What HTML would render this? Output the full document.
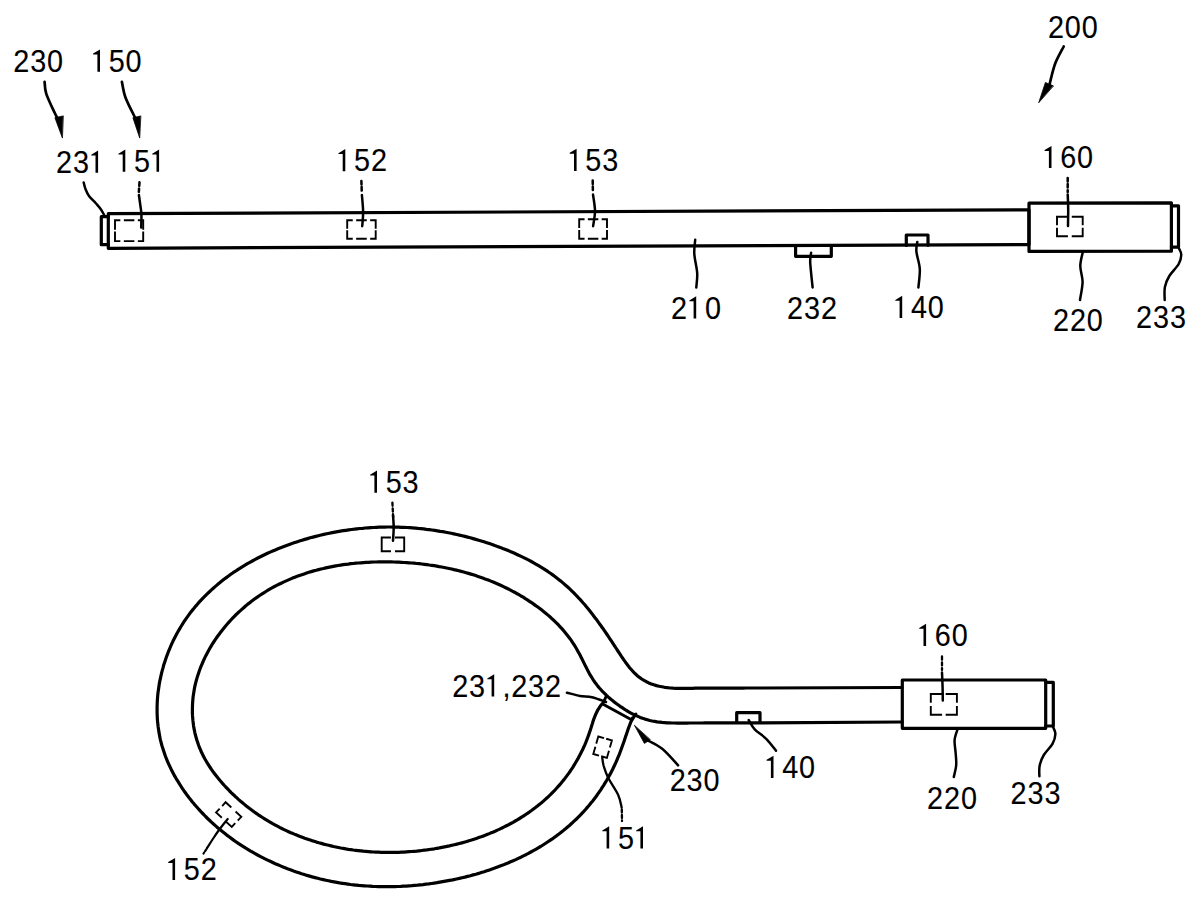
<!DOCTYPE html>
<html><head><meta charset="utf-8"><style>
html,body{margin:0;padding:0;background:#fff;width:1200px;height:904px;overflow:hidden}
svg{display:block}
text{font-family:"Liberation Sans",sans-serif;font-size:32px;fill:#000;stroke:#000;stroke-width:0.12px}
</style></head><body>
<svg width="1200" height="904" viewBox="0 0 1200 904">
<g fill="none" stroke="#000" stroke-linecap="round" stroke-linejoin="round">
<path d="M108.3,213.7 L1029.0,209.8 L1029.0,244.6 L108.3,248.3 Z" stroke-width="3.20" />
<path d="M108.3,216.7 L101.3,216.7 L101.3,244.7 L108.3,244.7" stroke-width="3.20" />
<path d="M1029.0,203.2 L1171.4,202.8 L1171.4,251.2 L1029.0,251.4 Z" stroke-width="3.20" />
<path d="M1171.4,205.8 L1178.5,205.8 L1178.5,247.1 L1171.4,247.1" stroke-width="3.20" />
<path d="M795.6,246.0 L795.6,256.3 L831.3,256.3 L831.3,245.7" stroke-width="3.20" />
<path d="M906.3,245.5 L906.3,235.0 L928.0,235.0 L928.0,245.3" stroke-width="3.20" />
<path d="M119.4,220.3 L115.0,220.3 L115.0,228.9 M119.4,241.1 L115.0,241.1 L115.0,232.5 M138.8,220.3 L143.2,220.3 L143.2,228.9 M138.8,241.1 L143.2,241.1 L143.2,232.5 M124.8,220.3 L133.4,220.3 M124.8,241.1 L133.4,241.1" stroke-width="1.90" stroke-linecap="square" stroke-linejoin="miter"/>
<path d="M351.8,220.2 L347.2,220.2 L347.2,227.8 M351.8,238.8 L347.2,238.8 L347.2,231.2 M371.1,220.2 L375.7,220.2 L375.7,227.8 M371.1,238.8 L375.7,238.8 L375.7,231.2 M357.1,220.2 L365.8,220.2 M357.1,238.8 L365.8,238.8" stroke-width="1.90" stroke-linecap="square" stroke-linejoin="miter"/>
<path d="M583.6,219.3 L579.2,219.3 L579.2,227.1 M583.6,238.8 L579.2,238.8 L579.2,231.0 M602.6,219.3 L607.0,219.3 L607.0,227.1 M602.6,238.8 L607.0,238.8 L607.0,231.0 M588.8,219.3 L597.4,219.3 M588.8,238.8 L597.4,238.8" stroke-width="1.90" stroke-linecap="square" stroke-linejoin="miter"/>
<path d="M1067.0,216.8 L1057.0,216.8 L1057.0,224.4 M1067.0,236.3 L1057.0,236.3 L1057.0,228.7 M1072.7,216.8 L1082.7,216.8 L1082.7,224.4 M1072.7,236.3 L1082.7,236.3 L1082.7,228.7" stroke-width="1.90" stroke-linecap="square" stroke-linejoin="miter"/>
<path d="M83.7,182.5 C84.0,183.6 84.6,186.8 85.5,189.0 C86.4,191.2 87.2,193.6 89.0,196.0 C90.8,198.4 94.0,201.2 96.0,203.5 C98.0,205.8 99.6,207.5 101.0,209.5 C102.4,211.5 103.8,214.5 104.4,215.5" stroke-width="2.50" />
<path d="M139.5,182.3 L138.8,192.5" stroke-width="2.50" stroke-dasharray="3.5 2.6"/>
<path d="M138.9,195.0 C139.1,196.7 139.9,201.8 140.3,205.0 C140.7,208.2 141.2,210.2 141.4,214.0 C141.6,217.8 141.2,225.2 141.2,227.5" stroke-width="2.50" />
<path d="M361.4,181.0 L361.8,192.5" stroke-width="2.50" stroke-dasharray="3.5 2.6"/>
<path d="M361.9,195.0 C362.1,197.8 363.1,206.8 363.1,212.0 C363.2,217.2 362.4,223.8 362.2,226.2" stroke-width="2.50" />
<path d="M592.7,180.5 L592.9,192.0" stroke-width="2.50" stroke-dasharray="3.5 2.6"/>
<path d="M593.0,194.5 C593.3,197.2 595.0,205.7 595.0,211.0 C595.0,216.3 593.4,223.7 593.1,226.2" stroke-width="2.50" />
<path d="M1067.7,178.0 L1067.7,192.0" stroke-width="2.50" stroke-dasharray="3.5 2.6"/>
<path d="M1067.7,194.5 C1067.8,197.1 1068.2,204.8 1068.2,210.0 C1068.2,215.2 1068.0,223.3 1068.0,226.0" stroke-width="2.50" />
<path d="M695.2,239.8 C695.1,242.1 694.0,248.2 694.3,253.8 C694.6,259.4 696.9,267.7 697.2,273.3 C697.5,278.9 696.4,285.0 696.3,287.4" stroke-width="2.50" />
<path d="M811.1,252.8 C811.0,254.4 810.0,256.7 810.2,262.5 C810.5,268.3 812.2,283.2 812.6,287.4" stroke-width="2.50" />
<path d="M917.3,241.9 C917.1,243.5 916.0,247.2 916.4,251.7 C916.8,256.2 919.5,263.1 919.8,269.0 C920.1,274.9 918.6,284.3 918.4,287.4" stroke-width="2.50" />
<path d="M1082.7,252.5 C1082.3,254.8 1080.3,261.1 1080.3,266.0 C1080.3,270.9 1082.6,276.3 1082.6,282.0 C1082.5,287.7 1080.4,297.0 1080.0,300.0" stroke-width="2.50" />
<path d="M1179.0,248.5 C1179.4,249.5 1181.3,252.1 1181.3,254.7 C1181.2,257.3 1180.7,260.4 1178.7,264.0 C1176.7,267.6 1171.6,272.2 1169.3,276.0 C1167.0,279.8 1165.7,283.0 1164.9,287.0 C1164.1,291.0 1164.7,297.8 1164.7,300.0" stroke-width="2.50" />
<path d="M44.6,81.9 C44.9,83.9 44.6,88.6 46.3,93.8 C48.0,99.0 52.9,108.9 54.9,113.3 C56.9,117.7 57.9,118.9 58.5,120.0" stroke-width="2.70" />
<path d="M62.3,137.7 L54.9,117.7 L63.0,116.0 Z" fill="#000" stroke-width="0.8"/>
<path d="M121.9,81.9 C122.5,84.4 123.3,91.4 125.3,97.0 C127.3,102.6 132.1,111.7 134.0,115.5 C135.9,119.3 136.1,119.2 136.5,120.0" stroke-width="2.70" />
<path d="M139.6,137.7 L132.9,117.7 L140.5,116.0 Z" fill="#000" stroke-width="0.8"/>
<path d="M1063.7,46.5 C1062.3,49.3 1057.6,57.4 1055.4,63.1 C1053.2,68.8 1051.4,77.0 1050.4,80.8 C1049.4,84.6 1049.7,85.1 1049.5,86.0" stroke-width="2.70" />
<path d="M1038.8,102.4 L1045.4,82.5 L1053.2,85.8 Z" fill="#000" stroke-width="0.8"/>
<path d="M902,687.5 L760.0,688.0 L757.2,688.0 L754.4,688.0 L751.6,688.0 L748.8,688.0 L746.0,688.0 L743.2,688.1 L740.3,688.1 L737.5,688.1 L734.7,688.1 L731.9,688.1 L729.1,688.1 L726.3,688.2 L723.5,688.2 L720.7,688.2 L717.9,688.2 L715.1,688.2 L712.3,688.2 L709.5,688.2 L706.7,688.2 L703.9,688.2 L701.1,688.2 L698.2,688.2 L695.4,688.2 L692.6,688.3 L689.8,688.3 L687.0,688.4 L684.2,688.4 L681.4,688.4 L678.6,688.4 L675.8,688.3 L673.0,688.2 L670.2,688.0 L667.4,687.7 L664.6,687.3 L661.9,686.8 L659.2,686.3 L656.5,685.6 L653.9,684.8 L651.3,683.9 L648.8,682.9 L646.4,681.7 L644.0,680.4 L641.7,679.0 L639.5,677.4 L637.4,675.7 L635.3,673.8 L633.4,671.9 L631.5,669.8 L629.6,667.7 L627.9,665.4 L626.1,663.1 L624.4,660.7 L622.8,658.3 L621.1,655.9 L619.5,653.4 L617.9,651.0 L616.3,648.5 L614.7,646.1 L613.1,643.6 L611.5,641.2 L609.9,638.8 L608.3,636.4 L606.7,634.0 L605.1,631.7 L603.5,629.3 L601.8,627.0 L600.2,624.7 L598.5,622.4 L596.9,620.1 L595.2,617.9 L593.5,615.7 L591.8,613.4 L590.1,611.3 L588.3,609.1 L586.6,607.0 L584.8,604.8 L583.0,602.8 L581.2,600.7 L579.3,598.7 L577.4,596.6 L575.5,594.7 L573.6,592.7 L571.7,590.8 L569.7,588.9 L567.7,587.0 L565.6,585.2 L563.5,583.4 L561.4,581.6 L559.3,579.9 L557.1,578.2 L554.9,576.5 L552.7,574.9 L550.4,573.3 L548.1,571.7 L545.8,570.2 L543.4,568.6 L541.0,567.2 L538.6,565.7 L536.2,564.3 L533.7,562.9 L531.3,561.5 L528.8,560.2 L526.3,558.9 L523.7,557.6 L521.2,556.4 L518.6,555.2 L516.0,554.0 L513.4,552.8 L510.8,551.7 L508.1,550.6 L505.5,549.5 L502.8,548.5 L500.2,547.4 L497.5,546.4 L494.8,545.5 L492.1,544.5 L489.4,543.6 L486.7,542.7 L484.0,541.8 L481.3,541.0 L478.6,540.2 L475.8,539.4 L473.1,538.6 L470.4,537.8 L467.6,537.1 L464.9,536.4 L462.2,535.7 L459.4,535.1 L456.7,534.5 L453.9,533.9 L451.2,533.3 L448.4,532.7 L445.7,532.2 L442.9,531.7 L440.2,531.3 L437.4,530.8 L434.7,530.4 L431.9,530.0 L429.1,529.6 L426.4,529.3 L423.6,528.9 L420.8,528.6 L418.1,528.4 L415.3,528.1 L412.5,527.9 L409.7,527.7 L407.0,527.5 L404.2,527.4 L401.4,527.3 L398.6,527.2 L395.9,527.1 L393.1,527.1 L390.3,527.0 L387.5,527.0 L384.8,527.1 L382.0,527.1 L379.2,527.2 L376.4,527.3 L373.7,527.5 L370.9,527.6 L368.1,527.8 L365.3,528.0 L362.6,528.3 L359.8,528.5 L357.0,528.8 L354.3,529.2 L351.5,529.5 L348.7,529.9 L346.0,530.3 L343.2,530.7 L340.4,531.1 L337.7,531.6 L334.9,532.1 L332.2,532.6 L329.4,533.2 L326.7,533.8 L323.9,534.4 L321.2,535.0 L318.4,535.7 L315.7,536.4 L313.0,537.1 L310.2,537.8 L307.5,538.6 L304.8,539.4 L302.1,540.2 L299.4,541.0 L296.7,541.9 L294.0,542.8 L291.3,543.7 L288.6,544.7 L285.9,545.7 L283.3,546.7 L280.6,547.7 L278.0,548.8 L275.3,549.9 L272.7,551.0 L270.1,552.1 L267.5,553.3 L265.0,554.5 L262.4,555.8 L259.9,557.0 L257.3,558.3 L254.8,559.6 L252.3,561.0 L249.9,562.3 L247.4,563.7 L245.0,565.2 L242.6,566.6 L240.2,568.1 L237.8,569.6 L235.5,571.2 L233.1,572.7 L230.8,574.3 L228.5,576.0 L226.3,577.6 L224.0,579.3 L221.8,581.1 L219.7,582.8 L217.5,584.6 L215.4,586.4 L213.3,588.2 L211.2,590.1 L209.2,592.0 L207.2,593.9 L205.2,595.9 L203.2,597.9 L201.3,599.9 L199.4,601.9 L197.6,604.0 L195.8,606.1 L194.0,608.3 L192.2,610.4 L190.5,612.6 L188.8,614.9 L187.2,617.1 L185.6,619.4 L184.0,621.7 L182.5,624.1 L181.0,626.5 L179.6,628.9 L178.2,631.3 L176.8,633.8 L175.5,636.3 L174.2,638.8 L172.9,641.3 L171.7,643.9 L170.6,646.5 L169.5,649.1 L168.4,651.7 L167.4,654.4 L166.4,657.0 L165.5,659.7 L164.6,662.4 L163.7,665.1 L163.0,667.9 L162.2,670.6 L161.5,673.3 L160.9,676.1 L160.3,678.9 L159.7,681.6 L159.2,684.4 L158.8,687.2 L158.4,690.0 L158.0,692.8 L157.7,695.6 L157.5,698.4 L157.3,701.2 L157.2,704.0 L157.1,706.8 L157.1,709.6 L157.1,712.4 L157.2,715.2 L157.3,718.0 L157.5,720.8 L157.8,723.6 L158.1,726.4 L158.5,729.1 L158.9,731.9 L159.4,734.6 L159.9,737.4 L160.5,740.1 L161.2,742.8 L161.9,745.5 L162.7,748.1 L163.6,750.8 L164.5,753.4 L165.4,756.1 L166.4,758.7 L167.5,761.3 L168.6,763.8 L169.8,766.4 L171.0,768.9 L172.3,771.4 L173.6,773.9 L174.9,776.4 L176.3,778.8 L177.8,781.2 L179.3,783.6 L180.8,786.0 L182.3,788.4 L183.9,790.7 L185.6,793.0 L187.2,795.3 L188.9,797.5 L190.7,799.7 L192.4,801.9 L194.2,804.1 L196.1,806.2 L197.9,808.3 L199.8,810.4 L201.7,812.5 L203.7,814.5 L205.6,816.5 L207.6,818.5 L209.7,820.5 L211.7,822.4 L213.8,824.3 L215.9,826.1 L218.0,828.0 L220.2,829.8 L222.4,831.6 L224.6,833.3 L226.8,835.1 L229.1,836.8 L231.3,838.4 L233.6,840.1 L235.9,841.7 L238.3,843.3 L240.6,844.8 L243.0,846.4 L245.4,847.9 L247.8,849.3 L250.2,850.8 L252.6,852.2 L255.1,853.6 L257.6,855.0 L260.1,856.3 L262.6,857.6 L265.1,858.9 L267.6,860.1 L270.2,861.3 L272.7,862.5 L275.3,863.7 L277.9,864.8 L280.5,865.9 L283.1,867.0 L285.7,868.0 L288.3,869.1 L291.0,870.0 L293.6,871.0 L296.3,871.9 L298.9,872.8 L301.6,873.7 L304.3,874.5 L307.0,875.4 L309.6,876.1 L312.3,876.9 L315.0,877.6 L317.7,878.3 L320.4,879.0 L323.2,879.6 L325.9,880.2 L328.6,880.8 L331.3,881.4 L334.1,881.9 L336.8,882.4 L339.6,882.9 L342.3,883.3 L345.1,883.7 L347.8,884.1 L350.6,884.5 L353.3,884.8 L356.1,885.1 L358.9,885.4 L361.6,885.6 L364.4,885.8 L367.2,886.0 L370.0,886.2 L372.7,886.4 L375.5,886.5 L378.3,886.6 L381.1,886.6 L383.9,886.7 L386.7,886.7 L389.5,886.7 L392.3,886.6 L395.1,886.6 L397.9,886.5 L400.7,886.4 L403.5,886.2 L406.3,886.1 L409.1,885.9 L411.9,885.7 L414.7,885.4 L417.5,885.2 L420.3,884.9 L423.1,884.6 L425.9,884.2 L428.7,883.9 L431.5,883.5 L434.3,883.1 L437.0,882.7 L439.8,882.2 L442.6,881.7 L445.4,881.2 L448.2,880.7 L451.0,880.2 L453.8,879.6 L456.6,879.0 L459.3,878.4 L462.1,877.7 L464.9,877.1 L467.6,876.4 L470.4,875.7 L473.1,874.9 L475.9,874.2 L478.6,873.4 L481.3,872.5 L484.1,871.7 L486.8,870.8 L489.5,869.9 L492.1,869.0 L494.8,868.1 L497.5,867.1 L500.1,866.1 L502.8,865.1 L505.4,864.0 L508.0,863.0 L510.6,861.8 L513.2,860.7 L515.8,859.6 L518.3,858.4 L520.9,857.2 L523.4,855.9 L525.9,854.7 L528.4,853.4 L530.9,852.0 L533.3,850.7 L535.8,849.3 L538.2,847.9 L540.6,846.5 L543.0,845.0 L545.3,843.5 L547.6,842.0 L550.0,840.4 L552.3,838.9 L554.5,837.2 L556.8,835.6 L559.0,833.9 L561.2,832.2 L563.4,830.5 L565.5,828.8 L567.6,827.0 L569.7,825.2 L571.8,823.3 L573.8,821.4 L575.9,819.5 L577.8,817.6 L579.8,815.6 L581.7,813.6 L583.6,811.6 L585.5,809.5 L587.3,807.4 L589.2,805.3 L590.9,803.1 L592.7,800.9 L594.4,798.7 L596.1,796.5 L597.7,794.2 L599.3,791.9 L600.9,789.6 L602.4,787.2 L604.0,784.8 L605.4,782.4 L606.9,780.0 L608.3,777.6 L609.6,775.1 L611.0,772.6 L612.3,770.1 L613.5,767.5 L614.7,765.0 L615.9,762.4 L617.0,759.8 L618.1,757.2 L619.2,754.6 L620.2,752.0 L621.2,749.3 L622.1,746.7 L623.1,744.0 L624.0,741.4 L624.9,738.7 L625.8,736.1 L626.7,733.4 L627.6,730.8 L628.5,728.1 L629.5,725.5 L630.5,722.9 L631.6,720.4 L632.7,717.8" stroke-width="3.20" />
<path d="M902,722 L760.0,722.8 L757.5,722.8 L755.0,722.8 L752.5,722.8 L749.9,722.8 L747.4,722.8 L744.9,722.9 L742.4,722.9 L739.9,722.9 L737.4,722.9 L734.9,722.9 L732.4,722.9 L729.8,722.9 L727.3,722.9 L724.8,722.9 L722.3,722.9 L719.8,722.9 L717.3,722.9 L714.8,722.9 L712.3,722.9 L709.7,722.9 L707.2,722.9 L704.7,722.9 L702.2,723.0 L699.7,723.0 L697.2,723.0 L694.7,723.0 L692.2,723.0 L689.6,723.0 L687.1,723.1 L684.6,723.1 L682.1,723.1 L679.6,723.1 L677.1,723.1 L674.6,723.0 L672.1,723.0 L669.6,722.9 L667.1,722.8 L664.6,722.6 L662.1,722.4 L659.6,722.1 L657.1,721.8 L654.7,721.4 L652.2,721.0 L649.8,720.5 L647.4,719.8 L645.0,719.1 L642.6,718.3 L640.2,717.4 L637.9,716.4 L635.6,715.4 L633.3,714.3 L631.0,713.1 L628.7,711.8 L626.5,710.5 L624.3,709.1 L622.2,707.7 L620.1,706.3 L618.0,704.8 L615.9,703.3 L613.9,701.7 L611.9,700.1 L610.0,698.5 L608.1,696.9 L606.3,695.2 L604.5,693.4 L602.7,691.7 L601.0,689.8 L599.4,688.0 L597.8,686.1 L596.3,684.1 L594.8,682.2 L593.4,680.1 L592.1,678.0 L590.8,675.9 L589.5,673.8 L588.3,671.6 L587.2,669.4 L586.0,667.1 L584.9,664.9 L583.8,662.6 L582.7,660.4 L581.5,658.1 L580.4,655.8 L579.2,653.6 L578.0,651.4 L576.8,649.2 L575.5,647.0 L574.2,644.9 L572.8,642.8 L571.4,640.7 L570.0,638.7 L568.5,636.7 L566.9,634.7 L565.3,632.7 L563.7,630.8 L562.1,628.9 L560.4,627.1 L558.7,625.2 L556.9,623.4 L555.1,621.7 L553.3,619.9 L551.4,618.2 L549.6,616.5 L547.7,614.9 L545.7,613.2 L543.8,611.7 L541.8,610.1 L539.8,608.5 L537.8,607.0 L535.7,605.6 L533.7,604.1 L531.6,602.7 L529.5,601.3 L527.4,599.9 L525.3,598.6 L523.2,597.2 L521.0,596.0 L518.9,594.7 L516.7,593.5 L514.5,592.2 L512.3,591.1 L510.1,589.9 L507.9,588.8 L505.7,587.7 L503.4,586.6 L501.2,585.5 L498.9,584.5 L496.6,583.5 L494.3,582.5 L492.0,581.6 L489.7,580.6 L487.4,579.7 L485.1,578.9 L482.7,578.0 L480.4,577.2 L478.0,576.4 L475.7,575.6 L473.3,574.8 L470.9,574.1 L468.5,573.4 L466.1,572.7 L463.7,572.0 L461.3,571.4 L458.9,570.7 L456.4,570.1 L454.0,569.6 L451.6,569.0 L449.1,568.5 L446.6,568.0 L444.2,567.5 L441.7,567.0 L439.2,566.6 L436.7,566.1 L434.3,565.7 L431.8,565.3 L429.3,565.0 L426.8,564.6 L424.3,564.3 L421.8,564.0 L419.2,563.7 L416.7,563.5 L414.2,563.2 L411.7,563.0 L409.1,562.8 L406.6,562.6 L404.1,562.5 L401.5,562.3 L399.0,562.2 L396.5,562.1 L393.9,562.0 L391.4,561.9 L388.8,561.9 L386.3,561.9 L383.7,561.8 L381.2,561.9 L378.6,561.9 L376.1,562.0 L373.5,562.0 L371.0,562.1 L368.5,562.3 L365.9,562.4 L363.4,562.6 L360.9,562.8 L358.3,563.0 L355.8,563.2 L353.3,563.5 L350.8,563.7 L348.2,564.1 L345.7,564.4 L343.2,564.7 L340.7,565.1 L338.2,565.5 L335.8,565.9 L333.3,566.4 L330.8,566.9 L328.3,567.4 L325.9,567.9 L323.4,568.5 L321.0,569.0 L318.6,569.6 L316.2,570.3 L313.7,570.9 L311.3,571.6 L308.9,572.3 L306.6,573.1 L304.2,573.9 L301.8,574.7 L299.5,575.5 L297.2,576.3 L294.8,577.2 L292.5,578.1 L290.2,579.1 L287.9,580.1 L285.7,581.1 L283.4,582.1 L281.2,583.2 L278.9,584.3 L276.7,585.4 L274.5,586.5 L272.4,587.7 L270.2,588.9 L268.0,590.2 L265.9,591.5 L263.8,592.8 L261.7,594.1 L259.6,595.5 L257.6,596.9 L255.5,598.3 L253.5,599.8 L251.5,601.3 L249.5,602.9 L247.5,604.4 L245.6,606.0 L243.7,607.7 L241.8,609.4 L239.9,611.1 L238.0,612.8 L236.2,614.5 L234.4,616.3 L232.6,618.2 L230.9,620.0 L229.2,621.9 L227.5,623.8 L225.8,625.7 L224.2,627.7 L222.6,629.7 L221.0,631.7 L219.5,633.7 L218.0,635.7 L216.5,637.8 L215.1,639.9 L213.7,642.0 L212.3,644.2 L211.0,646.3 L209.7,648.5 L208.5,650.7 L207.3,652.9 L206.1,655.2 L205.0,657.4 L203.9,659.7 L202.9,662.0 L201.9,664.3 L200.9,666.6 L200.0,669.0 L199.2,671.3 L198.4,673.7 L197.6,676.0 L196.9,678.4 L196.2,680.8 L195.6,683.2 L195.0,685.7 L194.5,688.1 L194.1,690.6 L193.7,693.0 L193.3,695.5 L193.0,697.9 L192.8,700.4 L192.6,702.9 L192.5,705.4 L192.4,707.9 L192.4,710.4 L192.4,712.9 L192.5,715.4 L192.7,717.9 L192.9,720.4 L193.2,722.9 L193.5,725.4 L193.9,727.9 L194.4,730.4 L194.9,732.8 L195.5,735.3 L196.2,737.7 L196.9,740.2 L197.7,742.6 L198.5,745.0 L199.4,747.3 L200.4,749.7 L201.4,752.0 L202.5,754.3 L203.6,756.6 L204.8,758.8 L206.1,761.0 L207.4,763.2 L208.8,765.4 L210.2,767.5 L211.6,769.6 L213.1,771.7 L214.6,773.7 L216.2,775.8 L217.8,777.8 L219.4,779.7 L221.1,781.7 L222.7,783.6 L224.4,785.5 L226.1,787.3 L227.9,789.2 L229.6,791.0 L231.4,792.8 L233.2,794.5 L235.0,796.2 L236.9,797.9 L238.7,799.6 L240.6,801.2 L242.5,802.8 L244.4,804.4 L246.3,806.0 L248.3,807.5 L250.3,809.0 L252.3,810.5 L254.3,812.0 L256.3,813.4 L258.3,814.8 L260.4,816.2 L262.5,817.5 L264.6,818.8 L266.7,820.1 L268.8,821.4 L270.9,822.6 L273.1,823.9 L275.3,825.1 L277.4,826.2 L279.6,827.4 L281.8,828.5 L284.1,829.6 L286.3,830.6 L288.6,831.7 L290.8,832.7 L293.1,833.6 L295.4,834.6 L297.7,835.5 L300.0,836.4 L302.3,837.3 L304.7,838.2 L307.0,839.0 L309.4,839.8 L311.8,840.6 L314.1,841.3 L316.5,842.1 L318.9,842.8 L321.3,843.4 L323.7,844.1 L326.2,844.7 L328.6,845.3 L331.0,845.9 L333.5,846.5 L335.9,847.0 L338.4,847.5 L340.9,848.0 L343.3,848.4 L345.8,848.9 L348.3,849.3 L350.8,849.6 L353.3,850.0 L355.8,850.3 L358.3,850.6 L360.8,850.9 L363.3,851.2 L365.9,851.4 L368.4,851.6 L370.9,851.8 L373.5,852.0 L376.0,852.1 L378.5,852.2 L381.1,852.3 L383.6,852.4 L386.2,852.4 L388.7,852.4 L391.2,852.4 L393.8,852.4 L396.3,852.4 L398.9,852.3 L401.4,852.2 L404.0,852.1 L406.5,851.9 L409.1,851.7 L411.6,851.5 L414.2,851.3 L416.7,851.1 L419.2,850.8 L421.8,850.5 L424.3,850.2 L426.8,849.9 L429.4,849.5 L431.9,849.2 L434.4,848.8 L436.9,848.3 L439.4,847.9 L441.9,847.4 L444.5,846.9 L447.0,846.4 L449.4,845.9 L451.9,845.3 L454.4,844.7 L456.9,844.1 L459.3,843.5 L461.8,842.9 L464.2,842.2 L466.7,841.5 L469.1,840.7 L471.5,840.0 L474.0,839.2 L476.4,838.4 L478.7,837.6 L481.1,836.8 L483.5,835.9 L485.8,835.0 L488.2,834.1 L490.5,833.1 L492.8,832.2 L495.1,831.2 L497.4,830.1 L499.7,829.1 L502.0,828.0 L504.2,826.9 L506.4,825.8 L508.7,824.7 L510.8,823.5 L513.0,822.3 L515.2,821.0 L517.3,819.8 L519.5,818.5 L521.6,817.2 L523.7,815.9 L525.7,814.5 L527.8,813.1 L529.8,811.7 L531.8,810.3 L533.8,808.8 L535.8,807.3 L537.7,805.8 L539.6,804.2 L541.5,802.7 L543.4,801.1 L545.3,799.4 L547.1,797.8 L548.9,796.1 L550.7,794.4 L552.4,792.6 L554.2,790.8 L555.9,789.0 L557.5,787.2 L559.2,785.4 L560.8,783.5 L562.4,781.5 L564.0,779.6 L565.5,777.6 L567.0,775.6 L568.5,773.6 L570.0,771.5 L571.4,769.4 L572.8,767.3 L574.1,765.2 L575.4,763.0 L576.7,760.8 L578.0,758.6 L579.2,756.3 L580.4,754.1 L581.5,751.8 L582.7,749.5 L583.7,747.2 L584.8,744.9 L585.8,742.5 L586.7,740.2 L587.6,737.8 L588.5,735.4 L589.3,733.0 L590.1,730.7 L590.9,728.3 L591.6,725.9 L592.4,723.5 L593.1,721.1 L593.9,718.8 L594.8,716.5 L595.8,714.2 L596.8,712.0 L597.9,709.8 L599.2,707.8 L600.6,705.7 L602.2,703.8" stroke-width="3.20" />
<path d="M605.7,697.3 L602.7,704.0 L632.0,720.0 L636.0,714.0" stroke-width="2.88" />
<path d="M902.3,680.0 L1045.7,680.0 L1045.7,728.3 L902.3,728.3 Z" stroke-width="3.20" />
<path d="M1045.7,682.3 L1053.3,682.3 L1053.3,726.0 L1045.7,726.0" stroke-width="3.20" />
<path d="M736.7,722.0 L736.7,712.7 L760.0,712.7 L760.0,722.0" stroke-width="3.20" />
<path d="M941.1,694.0 L930.8,694.0 L930.8,701.8 M941.1,714.7 L930.8,714.7 L930.8,706.9 M946.6,694.0 L956.9,694.0 L956.9,701.8 M946.6,714.7 L956.9,714.7 L956.9,706.9" stroke-width="1.90" stroke-linecap="square" stroke-linejoin="miter"/>
<path d="M390.0,537.5 L381.7,537.5 L381.7,544.5 M390.0,551.3 L381.7,551.3 L381.7,544.3 M395.9,537.5 L404.2,537.5 L404.2,544.5 M395.9,551.3 L404.2,551.3 L404.2,544.3" stroke-width="1.90" stroke-linecap="square" stroke-linejoin="miter"/>
<path d="M603.1,737.9 L598.3,736.5 L596.5,742.7 M598.1,755.4 L593.3,754.0 L595.1,747.7 M607.1,739.0 L611.9,740.4 L610.1,746.7 M602.1,756.5 L606.9,757.9 L608.7,751.7" stroke-width="1.90" stroke-linecap="square" stroke-linejoin="miter"/>
<path d="M230.6,806.8 L225.6,802.2 L222.8,805.3 M221.1,817.1 L216.1,812.4 L219.0,809.4 M236.3,812.1 L241.3,816.8 L238.4,819.8 M226.8,822.4 L231.8,827.0 L234.6,823.9" stroke-width="1.90" stroke-linecap="square" stroke-linejoin="miter"/>
<path d="M942.0,656.5 L942.0,670.0" stroke-width="2.30" stroke-dasharray="3.3 2.5"/>
<path d="M942.0,672.5 C942.1,675.1 942.5,683.3 942.6,688.0 C942.7,692.7 942.8,698.5 942.8,700.6" stroke-width="2.50" />
<path d="M392.4,502.6 L393.2,518.0" stroke-width="2.30" stroke-dasharray="3.2 2.6"/>
<path d="M393.0,515.0 C393.1,517.1 393.7,523.2 393.7,527.5 C393.7,531.8 393.1,538.6 393.0,540.8" stroke-width="2.50" />
<path d="M748.7,720.0 C749.7,721.5 751.7,726.1 754.7,729.3 C757.7,732.5 763.2,735.7 766.7,739.3 C770.2,742.9 774.5,748.8 776.0,750.7" stroke-width="2.50" />
<path d="M957.5,729.4 C957.0,731.2 954.9,736.1 954.6,740.0 C954.3,743.9 955.3,748.3 955.6,752.5 C955.9,756.7 956.5,760.9 956.2,765.0 C955.9,769.1 954.2,774.9 953.8,776.9" stroke-width="2.50" />
<path d="M1053.0,726.8 C1053.4,728.0 1055.5,731.2 1055.4,734.0 C1055.3,736.8 1054.4,740.3 1052.5,743.8 C1050.6,747.3 1046.0,751.3 1043.8,755.0 C1041.6,758.7 1040.3,762.5 1039.6,766.0 C1038.9,769.5 1039.4,774.6 1039.4,776.3" stroke-width="2.50" />
<path d="M566.9,692.7 C569.1,693.2 575.8,695.2 580.0,696.0 C584.2,696.8 587.7,696.3 592.0,697.3 C596.3,698.3 603.7,701.2 606.0,702.0" stroke-width="2.50" />
<path d="M602.3,758.0 C602.5,759.3 602.8,762.8 603.7,766.0 C604.7,769.2 605.6,772.7 608.0,777.5 C610.4,782.3 615.8,789.7 618.1,794.7 C620.4,799.7 621.1,805.5 621.7,807.7" stroke-width="2.30" />
<path d="M621.8,809.5 L622.0,821.0" stroke-width="2.30" stroke-dasharray="3 2.5"/>
<path d="M227.7,819.0 C226.2,820.8 221.6,826.5 219.0,830.0 C216.4,833.5 214.2,837.0 212.2,840.0 C210.2,843.0 207.9,846.7 207.0,848.0" stroke-width="2.20" />
<path d="M206.5,849.0 L203.5,853.5" stroke-width="2.20" stroke-dasharray="2.5 2"/>
<path d="M647.0,740.0 C649.5,741.5 657.0,744.6 662.2,748.8 C667.4,753.0 675.5,762.6 678.1,765.4" stroke-width="2.50" />
<path d="M634.6,725.6 L644.4,743.4 L650.0,739.8 Z" fill="#000" stroke-width="0.8"/>
</g>
<g stroke="none" fill="#000">
<text transform="translate(13.3,71.8) scale(0.900,1)">2</text>
<text transform="translate(30.2,71.8) scale(0.900,1)">3</text>
<text transform="translate(47.1,71.8) scale(0.900,1)">0</text>
<path d="M100.00,49.50 L100.00,71.70 L97.40,71.70 L97.40,54.50 L93.10,54.50 L93.10,53.60 Z" fill="#000"/>
<text transform="translate(108.7,71.7) scale(0.900,1)">5</text>
<text transform="translate(125.6,71.7) scale(0.900,1)">0</text>
<text transform="translate(56.1,172.8) scale(0.900,1)">2</text>
<text transform="translate(73.0,172.8) scale(0.900,1)">3</text>
<path d="M98.10,150.60 L98.10,172.80 L95.50,172.80 L95.50,155.60 L91.20,155.60 L91.20,154.70 Z" fill="#000"/>
<path d="M125.30,149.60 L125.30,171.80 L122.70,171.80 L122.70,154.60 L118.40,154.60 L118.40,153.70 Z" fill="#000"/>
<text transform="translate(134.0,171.8) scale(0.900,1)">5</text>
<path d="M159.10,149.60 L159.10,171.80 L156.50,171.80 L156.50,154.60 L152.20,154.60 L152.20,153.70 Z" fill="#000"/>
<path d="M345.30,149.10 L345.30,171.30 L342.70,171.30 L342.70,154.10 L338.40,154.10 L338.40,153.20 Z" fill="#000"/>
<text transform="translate(354.0,171.3) scale(0.900,1)">5</text>
<text transform="translate(370.9,171.3) scale(0.900,1)">2</text>
<path d="M576.60,148.70 L576.60,170.90 L574.00,170.90 L574.00,153.70 L569.70,153.70 L569.70,152.80 Z" fill="#000"/>
<text transform="translate(585.3,170.9) scale(0.900,1)">5</text>
<text transform="translate(602.2,170.9) scale(0.900,1)">3</text>
<path d="M1051.50,145.90 L1051.50,168.10 L1048.90,168.10 L1048.90,150.90 L1044.60,150.90 L1044.60,150.00 Z" fill="#000"/>
<text transform="translate(1060.2,168.1) scale(0.900,1)">6</text>
<text transform="translate(1077.1,168.1) scale(0.900,1)">0</text>
<text transform="translate(1047.9,37.9) scale(0.900,1)">2</text>
<text transform="translate(1064.8,37.9) scale(0.900,1)">0</text>
<text transform="translate(1081.7,37.9) scale(0.900,1)">0</text>
<text transform="translate(671.1,318.5) scale(0.900,1)">2</text>
<path d="M696.20,296.30 L696.20,318.50 L693.60,318.50 L693.60,301.30 L689.30,301.30 L689.30,300.40 Z" fill="#000"/>
<text transform="translate(704.9,318.5) scale(0.900,1)">0</text>
<text transform="translate(787.1,318.5) scale(0.900,1)">2</text>
<text transform="translate(804.0,318.5) scale(0.900,1)">3</text>
<text transform="translate(820.9,318.5) scale(0.900,1)">2</text>
<path d="M902.20,295.80 L902.20,318.00 L899.60,318.00 L899.60,300.80 L895.30,300.80 L895.30,299.90 Z" fill="#000"/>
<text transform="translate(910.9,318.0) scale(0.900,1)">4</text>
<text transform="translate(927.8,318.0) scale(0.900,1)">0</text>
<text transform="translate(1053.0,331.1) scale(0.900,1)">2</text>
<text transform="translate(1069.9,331.1) scale(0.900,1)">2</text>
<text transform="translate(1086.8,331.1) scale(0.900,1)">0</text>
<text transform="translate(1136.1,327.8) scale(0.900,1)">2</text>
<text transform="translate(1153.0,327.8) scale(0.900,1)">3</text>
<text transform="translate(1169.9,327.8) scale(0.900,1)">3</text>
<path d="M377.00,470.60 L377.00,492.80 L374.40,492.80 L374.40,475.60 L370.10,475.60 L370.10,474.70 Z" fill="#000"/>
<text transform="translate(385.7,492.8) scale(0.900,1)">5</text>
<text transform="translate(402.6,492.8) scale(0.900,1)">3</text>
<path d="M926.10,623.80 L926.10,646.00 L923.50,646.00 L923.50,628.80 L919.20,628.80 L919.20,627.90 Z" fill="#000"/>
<text transform="translate(934.8,646.0) scale(0.900,1)">6</text>
<text transform="translate(951.7,646.0) scale(0.900,1)">0</text>
<text transform="translate(452.2,696.5) scale(0.900,1)">2</text>
<text transform="translate(469.1,696.5) scale(0.900,1)">3</text>
<path d="M494.20,674.30 L494.20,696.50 L491.60,696.50 L491.60,679.30 L487.30,679.30 L487.30,678.40 Z" fill="#000"/>
<text transform="translate(502.6,696.5) scale(0.900,1)">,</text>
<text transform="translate(511.2,696.5) scale(0.900,1)">2</text>
<text transform="translate(528.1,696.5) scale(0.900,1)">3</text>
<text transform="translate(545.0,696.5) scale(0.900,1)">2</text>
<text transform="translate(669.7,790.8) scale(0.900,1)">2</text>
<text transform="translate(686.6,790.8) scale(0.900,1)">3</text>
<text transform="translate(703.5,790.8) scale(0.900,1)">0</text>
<path d="M773.50,755.70 L773.50,777.90 L770.90,777.90 L770.90,760.70 L766.60,760.70 L766.60,759.80 Z" fill="#000"/>
<text transform="translate(782.2,777.9) scale(0.900,1)">4</text>
<text transform="translate(799.1,777.9) scale(0.900,1)">0</text>
<text transform="translate(927.1,808.9) scale(0.900,1)">2</text>
<text transform="translate(944.0,808.9) scale(0.900,1)">2</text>
<text transform="translate(960.9,808.9) scale(0.900,1)">0</text>
<text transform="translate(1010.6,804.1) scale(0.900,1)">2</text>
<text transform="translate(1027.5,804.1) scale(0.900,1)">3</text>
<text transform="translate(1044.4,804.1) scale(0.900,1)">3</text>
<path d="M609.20,826.30 L609.20,848.50 L606.60,848.50 L606.60,831.30 L602.30,831.30 L602.30,830.40 Z" fill="#000"/>
<text transform="translate(617.9,848.5) scale(0.900,1)">5</text>
<path d="M643.00,826.30 L643.00,848.50 L640.40,848.50 L640.40,831.30 L636.10,831.30 L636.10,830.40 Z" fill="#000"/>
<path d="M175.10,857.90 L175.10,880.10 L172.50,880.10 L172.50,862.90 L168.20,862.90 L168.20,862.00 Z" fill="#000"/>
<text transform="translate(183.8,880.1) scale(0.900,1)">5</text>
<text transform="translate(200.7,880.1) scale(0.900,1)">2</text>
</g>
</svg>
</body></html>
